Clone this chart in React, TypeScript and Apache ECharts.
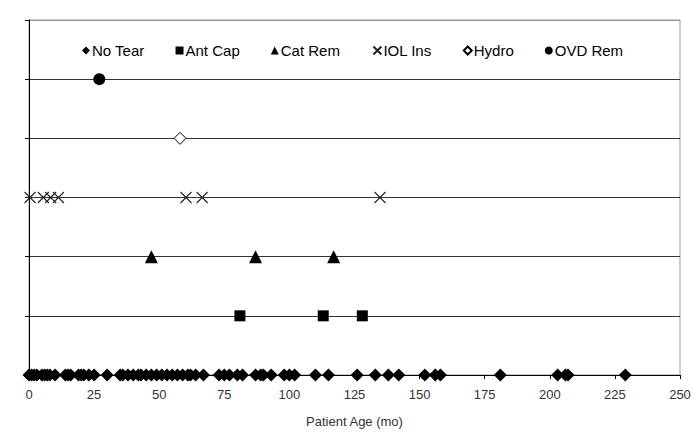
import React, { useEffect, useRef } from "react";
import * as echarts from "echarts";

const xTicks = [0, 25, 50, 75, 100, 125, 150, 175, 200, 225, 250];
const noTear = [0, 1, 2, 3, 5, 6, 7, 8, 10, 14, 15, 16, 19, 20, 21, 23, 25, 30, 35, 36, 38, 40, 42, 43, 45, 47, 49, 51, 53, 55, 57, 59, 61, 62, 64, 67, 73, 75, 77, 80, 82, 87, 89, 90, 93, 98, 100, 102, 110, 115, 126, 133, 138, 142, 152, 156, 158, 181, 203, 206, 207, 229];
const antCap = [81, 113, 128];
const catRem = [47, 87, 117];
const iolIns = [0.4, 5.5, 8.3, 11.3, 60.3, 66.5, 134.8];
const hydro = [58];
const ovdRem = [27];
const rowNames = ["No Tear", "Ant Cap", "Cat Rem", "IOL Ins", "Hydro", "OVD Rem"];

const FONT = "Liberation Sans, Arial, sans-serif";

export default function App() {
  const ref = useRef<HTMLDivElement>(null);
  useEffect(() => {
    if (!ref.current) return;
    const chart = echarts.init(ref.current, undefined, { renderer: "svg" });
    const rows = [noTear, antCap, catRem, iolIns, hydro, ovdRem];
    const symbols = ["diamond", "rect", "triangle", "path://M0,0L10,10M10,0L0,10", "diamond", "circle"];
    const sizes = [13, 11, 13, 11, 12, 12];
    const styles: any[] = [
      { color: "#000", opacity: 1 },
      { color: "#000", opacity: 1 },
      { color: "#000", opacity: 1 },
      { color: "none", borderColor: "#222", borderWidth: 1.1, opacity: 1 },
      { color: "#fff", borderColor: "#000", borderWidth: 1, opacity: 1 },
      { color: "#000", opacity: 1 },
    ];
    const series = rows.map((vals, i) => ({
      type: "scatter",
      name: rowNames[i],
      symbol: symbols[i],
      symbolSize: sizes[i],
      itemStyle: styles[i],
      data: vals.map((v) => [v, i]),
      z: 3,
    }));
    chart.setOption({
      animation: false,
      grid: { left: 29, right: 20, top: 20, bottom: 70, show: true, borderColor: "#999", borderWidth: 1 },
      legend: {
        top: 38,
        left: 77,
        itemWidth: 8,
        itemHeight: 8,
        itemGap: 31,
        textStyle: { fontFamily: FONT, fontSize: 15, color: "#000", padding: [0, 0, 0, -3] },
        data: rowNames,
      },
      xAxis: {
        type: "value",
        min: 0,
        max: 250,
        interval: 25,
        axisLine: { show: true, lineStyle: { color: "#000", width: 1 } },
        axisTick: { show: true, length: 4, lineStyle: { color: "#000" } },
        axisLabel: { fontFamily: FONT, fontSize: 13, color: "#333", margin: 13 },
        splitLine: { show: false },
        name: "Patient Age (mo)",
        nameLocation: "middle",
        nameGap: 40,
        nameTextStyle: { fontFamily: FONT, fontSize: 13, color: "#333" },
      },
      yAxis: {
        type: "value",
        min: 0,
        max: 6,
        interval: 1,
        axisLine: { show: true, lineStyle: { color: "#000", width: 1 } },
        axisTick: { show: true, length: 4, lineStyle: { color: "#000" } },
        axisLabel: { show: false },
        splitLine: {
          show: true,
          lineStyle: { color: ["#000", "#333", "#333", "#333", "#333", "#333", "#999"], width: 1 },
        },
      },
      series,
    });
    return () => chart.dispose();
  }, []);
  return <div ref={ref} style={{ width: 700, height: 445, position: "absolute", left: 0, top: 0 }} />;
}
